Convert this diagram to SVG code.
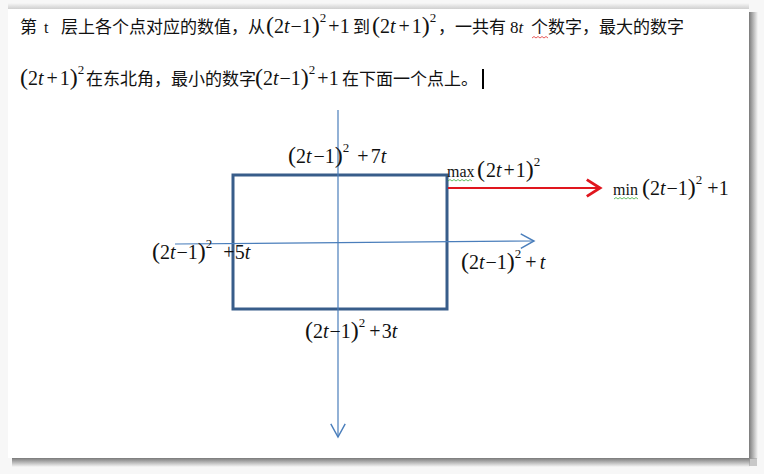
<svg xmlns="http://www.w3.org/2000/svg" width="764" height="474" viewBox="0 0 764 474">
<style>
.cjk{font-family:"Noto Sans CJK SC","Noto Sans CJK JP",sans-serif;font-size:17px;fill:#111}
.m{font-family:"Liberation Serif","Times New Roman",serif;font-size:20px;fill:#111}
.i{font-style:italic}
.p{font-size:24px}
.s{font-size:13px}
.fn{font-size:16px}
.rm{font-family:"Liberation Serif",serif;font-size:16px;fill:#111}
.axis{stroke:#4A7EBB;stroke-width:1.2;fill:none}
.red{stroke:#E0161E;stroke-width:2.2;fill:none}
.box{stroke:#385D8A;stroke-width:3;fill:none}
.wg{stroke:#3fae3f;stroke-width:0.8;fill:none}
.wr{stroke:#e23030;stroke-width:0.8;fill:none}
</style>
<defs>
<linearGradient id="shR" x1="0" y1="0" x2="1" y2="0">
<stop offset="0" stop-color="#7a7a7a"/><stop offset="1" stop-color="#7a7a7a" stop-opacity="0"/>
</linearGradient>
<linearGradient id="shB" x1="0" y1="0" x2="0" y2="1">
<stop offset="0" stop-color="#7a7a7a"/><stop offset="1" stop-color="#7a7a7a" stop-opacity="0"/>
</linearGradient>
<linearGradient id="shT" x1="0" y1="1" x2="0" y2="0">
<stop offset="0" stop-color="#cfcfcf"/><stop offset="1" stop-color="#cfcfcf" stop-opacity="0"/>
</linearGradient>
<marker id="arrB" markerUnits="userSpaceOnUse" markerWidth="24" markerHeight="24" viewBox="-14 -10 16 20" refX="0" refY="0" orient="auto">
<path d="M-11,-6 L0,0 L-11,6" stroke="#4A7EBB" stroke-width="1.2" fill="none"/>
</marker>
<marker id="arrR" markerUnits="userSpaceOnUse" markerWidth="24" markerHeight="24" viewBox="-14 -10 16 20" refX="0" refY="0" orient="auto">
<path d="M-11,-7 L0,0 L-11,7" stroke="#E0161E" stroke-width="2.4" fill="none"/>
</marker>
</defs>

<rect x="0" y="0" width="764" height="474" fill="#f7f7f7"/>
<rect x="8" y="3" width="741" height="6" fill="url(#shT)"/>
<rect x="749" y="12" width="9" height="447" fill="url(#shR)"/>
<rect x="12" y="458" width="738" height="9" fill="url(#shB)"/>
<rect x="749" y="458" width="8" height="8" fill="#9a9a9a" opacity="0.5"/>
<rect x="8" y="9" width="741" height="449" fill="#ffffff"/>

<g id="paragraph-line1">
<text x="20" y="33" class="cjk">第</text>
<text x="44" y="33" class="rm">t</text>
<text x="61" y="33" class="cjk">层上各个点对应的数值，从</text>
<text x="266" y="33" class="m"><tspan class="p">(</tspan>2<tspan class="i">t</tspan><tspan dx="1">−</tspan>1<tspan class="p">)</tspan><tspan class="s" dy="-11">2</tspan><tspan dy="11" dx="2">+</tspan>1</text>
<text x="353" y="33" class="cjk">到</text>
<text x="372" y="33" class="m"><tspan class="p">(</tspan>2<tspan class="i">t</tspan><tspan dx="3">+</tspan><tspan dx="2">1</tspan><tspan class="p">)</tspan><tspan class="s" dy="-11">2</tspan></text>
<text x="438" y="33" class="cjk">，一共有</text>
<text x="510" y="33" class="m" style="font-size:17px">8<tspan class="i">t</tspan></text>
<text x="531" y="33" class="cjk">个数字，最大的数字</text>
<path class="wr" d="M532,38 l2,-1.5 l2,1.5 l2,-1.5 l2,1.5 l2,-1.5 l2,1.5 l2,-1.5 l2,1.5"/>
</g>

<g id="paragraph-line2">
<text x="20" y="85" class="m"><tspan class="p">(</tspan>2<tspan class="i">t</tspan><tspan dx="3">+</tspan><tspan dx="2">1</tspan><tspan class="p">)</tspan><tspan class="s" dy="-11">2</tspan></text>
<text x="86" y="85" class="cjk">在东北角，最小的数字</text>
<text x="255" y="85" class="m"><tspan class="p">(</tspan>2<tspan class="i">t</tspan><tspan dx="1">−</tspan>1<tspan class="p">)</tspan><tspan class="s" dy="-11">2</tspan><tspan dy="11" dx="2">+</tspan>1</text>
<text x="342" y="85" class="cjk">在下面一个点上。</text>
<rect x="482" y="69" width="2" height="20" fill="#000"/>
</g>

<g id="square-node">
<rect class="box" x="233" y="175" width="214" height="134"/>
</g>

<g id="connectors">
<path class="axis" d="M338,110 L338,437" marker-end="url(#arrB)"/>
<path class="axis" d="M175,244 L534,241" marker-end="url(#arrB)"/>
<path class="red" d="M448,188 L600,188" marker-end="url(#arrR)"/>
</g>

<g id="label-top">
<text x="288" y="163" class="m"><tspan class="p">(</tspan>2<tspan class="i">t</tspan><tspan dx="2">−</tspan>1<tspan class="p">)</tspan><tspan class="s" dy="-11">2</tspan><tspan dy="11" dx="8">+</tspan><tspan dx="2">7</tspan><tspan class="i">t</tspan></text>
</g>

<g id="label-max">
<text x="447" y="177" class="m fn">max</text>
<text x="477" y="177" class="m"><tspan class="p">(</tspan><tspan dx="1">2</tspan><tspan class="i">t</tspan><tspan dx="2">+</tspan><tspan dx="1">1</tspan><tspan class="p">)</tspan><tspan class="s" dy="-11">2</tspan></text>
<path class="wg" d="M448,181 l2,-1.5 l2,1.5 l2,-1.5 l2,1.5 l2,-1.5 l2,1.5 l2,-1.5 l2,1.5 l2,-1.5 l2,1.5 l2,-1.5 l2,1.5"/>
</g>

<g id="label-min">
<text x="613" y="195" class="m fn">min</text>
<text x="642" y="195" class="m"><tspan class="p">(</tspan>2<tspan class="i">t</tspan><tspan dx="1">−</tspan>1<tspan class="p">)</tspan><tspan class="s" dy="-11">2</tspan><tspan dy="11" dx="5">+</tspan>1</text>
<path class="wg" d="M614,199 l2,-1.5 l2,1.5 l2,-1.5 l2,1.5 l2,-1.5 l2,1.5 l2,-1.5 l2,1.5 l2,-1.5 l2,1.5 l2,-1.5 l2,1.5"/>
</g>

<g id="label-left">
<text x="152" y="259" class="m"><tspan class="p">(</tspan>2<tspan class="i">t</tspan><tspan dx="1">−</tspan>1<tspan class="p">)</tspan><tspan class="s" dy="-11">2</tspan><tspan dy="11" dx="11">+</tspan>5<tspan class="i">t</tspan></text>
</g>

<g id="label-right">
<text x="461" y="269" class="m"><tspan class="p">(</tspan>2<tspan class="i">t</tspan><tspan dx="1">−</tspan>1<tspan class="p">)</tspan><tspan class="s" dy="-11">2</tspan><tspan dy="11" dx="4">+</tspan><tspan dx="3" class="i">t</tspan></text>
</g>

<g id="label-bottom">
<text x="305" y="338" class="m"><tspan class="p">(</tspan>2<tspan class="i">t</tspan><tspan dx="1">−</tspan>1<tspan class="p">)</tspan><tspan class="s" dy="-11">2</tspan><tspan dy="11" dx="4">+</tspan><tspan dx="1">3</tspan><tspan class="i">t</tspan></text>
</g>
</svg>
